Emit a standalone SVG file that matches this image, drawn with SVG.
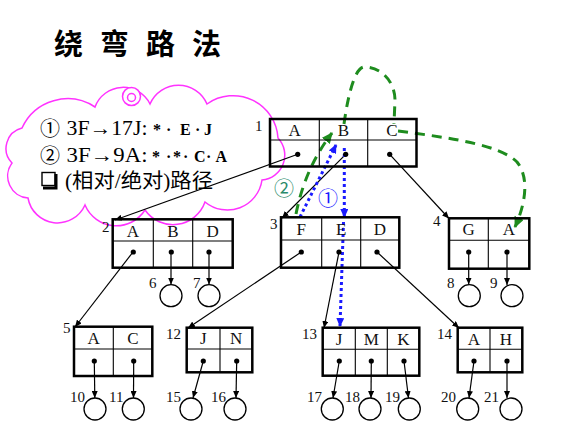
<svg xmlns="http://www.w3.org/2000/svg" width="582" height="426" viewBox="0 0 582 426">
<defs>
<style>
.box{fill:none;stroke:#000;stroke-width:2.5}
.div{fill:none;stroke:#000;stroke-width:1.1}
.dot{fill:#000}
.leaf{fill:none;stroke:#000;stroke-width:1.3}
.lt{font-family:"Liberation Serif","Times New Roman",serif;font-size:17px;fill:#111;text-anchor:middle}
.num{font-family:"Liberation Serif","Times New Roman",serif;font-size:15px;fill:#111}
.edge{fill:none;stroke:#000;stroke-width:1.2;marker-end:url(#ah)}
.blue{fill:none;stroke:#1a1aff;stroke-width:3;stroke-dasharray:3 3;marker-end:url(#ahb)}
.green{fill:none;stroke:#1e8c1e;stroke-width:3;stroke-dasharray:10 7}
.ct{font-family:"Liberation Serif","Times New Roman",serif;font-size:20px;fill:#000}
.cb{font-family:"Liberation Serif","Times New Roman",serif;font-size:16px;font-weight:bold;fill:#000}
.circ{font-family:"Noto Sans CJK SC",sans-serif;font-size:20px}
</style>
<marker id="ah" markerWidth="7" markerHeight="6" refX="7" refY="3" orient="auto" markerUnits="userSpaceOnUse"><path d="M0,0 L7,3 L0,6 z" fill="#000"/></marker>
<marker id="ahb" markerWidth="9" markerHeight="8" refX="8" refY="4" orient="auto" markerUnits="userSpaceOnUse"><path d="M0,0 L9,4 L0,8 z" fill="#1a1aff"/></marker>
<marker id="ahg" markerWidth="11" markerHeight="10" refX="10" refY="5" orient="auto" markerUnits="userSpaceOnUse"><path d="M0,0 L11,5 L0,10 z" fill="#1e8c1e"/></marker>
</defs>
<rect width="582" height="426" fill="#fff"/>

<text x="54" y="55" style="font-family:'Noto Sans CJK SC',sans-serif;font-size:29px;font-weight:bold;letter-spacing:17px" fill="#000">绕弯路法</text>

<g id="cloud">
<path d="M22,128 A50,50 0 0 1 95,107 A30,30 0 0 1 150,104 A31,31 0 0 1 207,104 A45,45 0 0 1 278,138 A25,25 0 0 1 262,180 A35,35 0 0 1 205,202 A34,34 0 0 1 145,210 A34,34 0 0 1 85,205 A30,30 0 0 1 28,198 A22,22 0 0 1 12,163 A21,21 0 0 1 22,128 Z" fill="none" stroke="#ff33ff" stroke-width="1.5"/>
<circle cx="131.5" cy="96.5" r="9" fill="#fff" stroke="#ff33ff" stroke-width="1.5"/>
<circle cx="131.5" cy="97.5" r="4" fill="none" stroke="#ff33ff" stroke-width="1.5"/>
<text class="circ" x="40" y="136">①</text>
<text class="ct" x="66.5" y="135" textLength="81" lengthAdjust="spacingAndGlyphs">3F→17J:</text>
<text class="cb" y="135"><tspan x="153">*</tspan><tspan x="166">·</tspan><tspan x="180">E</tspan><tspan x="195">·</tspan><tspan x="204">J</tspan></text>
<text class="circ" x="40" y="163">②</text>
<text class="ct" x="66.5" y="161.5" textLength="81" lengthAdjust="spacingAndGlyphs">3F→9A:</text>
<text class="cb" y="161.5"><tspan x="152">*</tspan><tspan x="166">·</tspan><tspan x="173">*</tspan><tspan x="183">·</tspan><tspan x="194">C</tspan><tspan x="206">·</tspan><tspan x="215.5">A</tspan></text>
<rect x="42" y="172.5" width="13" height="13" fill="#fff" stroke="#000" stroke-width="1.4"/>
<path d="M56,174 V188 H43" fill="none" stroke="#000" stroke-width="3"/>
<text x="65" y="188" style="font-family:'Liberation Serif','Noto Sans CJK SC',serif;font-size:20px" textLength="148" lengthAdjust="spacingAndGlyphs">(相对/绝对)路径</text>
</g>

<g id="connectors">
<path class="edge" d="M297.7,154.3 L115,220"/>
<path class="edge" d="M345.7,154.3 L282,218"/>
<path class="edge" d="M389.7,154.3 L449,218.5"/>
<path class="edge" d="M133,252 L75,327"/>
<path class="edge" d="M171,252 L171,284.5"/>
<path class="edge" d="M209,252 L209,284.5"/>
<path class="edge" d="M301.3,252 L188,328"/>
<path class="edge" d="M339,252 L324,328"/>
<path class="edge" d="M377,252 L459,328"/>
<path class="edge" d="M468.7,252 L468.7,284.5"/>
<path class="edge" d="M507,252 L507,285"/>
<path class="edge" d="M94.3,361 L94.8,398"/>
<path class="edge" d="M133.7,361 L133.5,398"/>
<path class="edge" d="M203.3,361 L193,398"/>
<path class="edge" d="M236.7,361 L236,398"/>
<path class="edge" d="M339.3,361 L333,398"/>
<path class="edge" d="M371.3,361 L371,398"/>
<path class="edge" d="M404,361 L408.5,398"/>
<path class="edge" d="M474,361 L469,398"/>
<path class="edge" d="M507,361 L507,398"/>

<path class="blue" d="M300,217 L336,145"/>
<path class="blue" d="M344.3,148 L344.3,217"/>
<path class="blue" d="M343.5,222 L340,326"/>

<path class="green" d="M296,214 Q305,168 332,133" marker-end="url(#ahg)"/>
<path class="green" d="M344,124 C348,95 355,66 365,67 C384,68 395,84 395,100 L394,124"/>
<path class="green" d="M398,131 C452,138 500,145 517,162 C530,178 525,205 515,227" marker-end="url(#ahg)"/>

<text class="circ" x="318" y="206" fill="#1a1aff">①</text>
<text class="circ" x="274" y="196" fill="#2a8a6a">②</text>
</g>

<g id="n1">
<rect class="box" x="270" y="119" width="146.5" height="47.5"/>
<path class="div" d="M270,140 H416.5 M319.3,119 V166.5 M367.7,119 V166.5"/>
<circle class="dot" cx="297.7" cy="154.3" r="2.6"/><circle class="dot" cx="345.7" cy="154.3" r="2.6"/><circle class="dot" cx="389.7" cy="154.3" r="2.6"/>
<text class="lt" x="294.7" y="136">A</text><text class="lt" x="343.5" y="136">B</text><text class="lt" x="392" y="136">C</text>
<text class="num" x="255" y="131">1</text>
</g>
<g id="n2">
<rect class="box" x="112.7" y="219.3" width="120" height="48.4"/>
<path class="div" d="M112.7,241 H232.7 M153.3,219.3 V267.7 M192.7,219.3 V267.7"/>
<circle class="dot" cx="133.3" cy="252" r="2.6"/><circle class="dot" cx="171.3" cy="252" r="2.6"/><circle class="dot" cx="209" cy="252" r="2.6"/>
<text class="lt" x="133" y="237">A</text><text class="lt" x="173" y="237">B</text><text class="lt" x="212.7" y="237">D</text>
<text class="num" x="102" y="232">2</text>
</g>
<g id="n3">
<rect class="box" x="281" y="217.3" width="118.3" height="50.4"/>
<path class="div" d="M281,240 H399.3 M321.7,217.3 V267.7 M360.7,217.3 V267.7"/>
<circle class="dot" cx="301.3" cy="252" r="2.6"/><circle class="dot" cx="339" cy="252" r="2.6"/><circle class="dot" cx="377" cy="252" r="2.6"/>
<text class="lt" x="301.3" y="234.5">F</text><text class="lt" x="341.2" y="234.5">E</text><text class="lt" x="380" y="234.5">D</text>
<text class="num" x="270" y="229">3</text>
</g>
<g id="n4">
<rect class="box" x="449" y="218.3" width="80.3" height="50.4"/>
<path class="div" d="M449,240.3 H529.3 M488.3,218.3 V268.7"/>
<circle class="dot" cx="468.7" cy="252" r="2.6"/><circle class="dot" cx="507" cy="252" r="2.6"/>
<text class="lt" x="468.7" y="235">G</text><text class="lt" x="508.8" y="235">A</text>
<text class="num" x="433" y="226">4</text>
</g>
<g id="n5">
<rect class="box" x="74" y="326.7" width="78.3" height="49.3"/>
<path class="div" d="M74,349 H152.3 M113.3,326.7 V376"/>
<circle class="dot" cx="94.3" cy="361" r="2.6"/><circle class="dot" cx="133.7" cy="361" r="2.6"/>
<text class="lt" x="93.7" y="344">A</text><text class="lt" x="132.8" y="344">C</text>
<text class="num" x="63" y="333">5</text>
</g>
<g id="n12">
<rect class="box" x="186.7" y="327.7" width="65.6" height="44.6"/>
<path class="div" d="M186.7,349 H252.3 M220,327.7 V372.3"/>
<circle class="dot" cx="203.3" cy="361" r="2.6"/><circle class="dot" cx="236.7" cy="361" r="2.6"/>
<text class="lt" x="203.3" y="344">J</text><text class="lt" x="236.2" y="344">N</text>
<text class="num" x="166" y="339">12</text>
</g>
<g id="n13">
<rect class="box" x="322.7" y="327.7" width="96.6" height="48"/>
<path class="div" d="M322.7,349.3 H419.3 M355.3,327.7 V375.7 M387.3,327.7 V375.7"/>
<circle class="dot" cx="339.3" cy="361" r="2.6"/><circle class="dot" cx="371.3" cy="361" r="2.6"/><circle class="dot" cx="404" cy="361" r="2.6"/>
<text class="lt" x="339" y="345">J</text><text class="lt" x="371.3" y="345">M</text><text class="lt" x="403.3" y="345">K</text>
<text class="num" x="302" y="339">13</text>
</g>
<g id="n14">
<rect class="box" x="457.7" y="327.7" width="64.6" height="44.6"/>
<path class="div" d="M457.7,349.3 H522.3 M490,327.7 V372.3"/>
<circle class="dot" cx="474" cy="361" r="2.6"/><circle class="dot" cx="507" cy="361" r="2.6"/>
<text class="lt" x="474" y="345">A</text><text class="lt" x="506" y="345">H</text>
<text class="num" x="437" y="339">14</text>
</g>

<g id="l6"><circle class="leaf" cx="171" cy="295.7" r="11"/><text class="num" x="149" y="288">6</text></g>
<g id="l7"><circle class="leaf" cx="209" cy="295.7" r="11"/><text class="num" x="193" y="288">7</text></g>
<g id="l8"><circle class="leaf" cx="469.3" cy="295.7" r="11"/><text class="num" x="447" y="288">8</text></g>
<g id="l9"><circle class="leaf" cx="512" cy="295.7" r="11"/><text class="num" x="490" y="288">9</text></g>
<g id="l10"><circle class="leaf" cx="95" cy="409" r="11"/><text class="num" x="70" y="402">10</text></g>
<g id="l11"><circle class="leaf" cx="133.3" cy="409" r="11"/><text class="num" x="109" y="402">11</text></g>
<g id="l15"><circle class="leaf" cx="191" cy="409" r="11"/><text class="num" x="166" y="402">15</text></g>
<g id="l16"><circle class="leaf" cx="235" cy="409" r="11"/><text class="num" x="211" y="402">16</text></g>
<g id="l17"><circle class="leaf" cx="332.3" cy="409" r="11"/><text class="num" x="307" y="402">17</text></g>
<g id="l18"><circle class="leaf" cx="370" cy="409" r="11"/><text class="num" x="345" y="402">18</text></g>
<g id="l19"><circle class="leaf" cx="409.3" cy="409" r="11"/><text class="num" x="385" y="402">19</text></g>
<g id="l20"><circle class="leaf" cx="467.7" cy="409" r="11"/><text class="num" x="441" y="402">20</text></g>
<g id="l21"><circle class="leaf" cx="511" cy="409" r="11"/><text class="num" x="484" y="402">21</text></g>
</svg>
